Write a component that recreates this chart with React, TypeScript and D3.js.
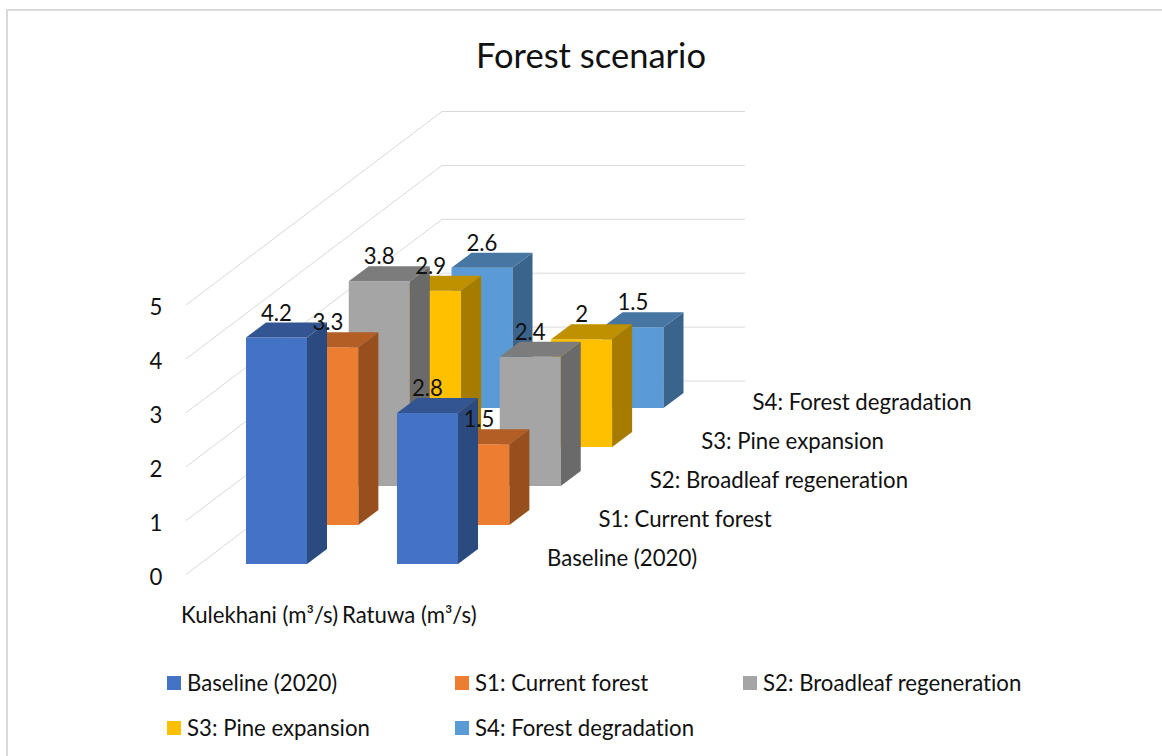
import React from 'react';
import * as d3 from 'd3';

const categories = ['Kulekhani (m³/s)', 'Ratuwa (m³/s)'];
const seriesNames = ['Baseline (2020)', 'S1: Current forest', 'S2: Broadleaf regeneration', 'S3: Pine expansion', 'S4: Forest degradation'];
const kulekhani = [4.2, 3.3, 3.8, 2.9, 2.6];
const ratuwa = [2.8, 1.5, 2.4, 2, 1.5];
const yTicks = [0, 1, 2, 3, 4, 5];

const frontColors = ['#4472C4', '#ED7D31', '#A5A5A5', '#FFC000', '#5B9BD5'];
const topColors = ['#335693', '#B25E25', '#7C7C7C', '#BF9000', '#4676A1'];
const sideColors = ['#2B4A80', '#97501D', '#6A6A6A', '#A67C00', '#3A648C'];

const font = 'Lato, "Open Sans", sans-serif';
const labelSize = 22.2;

export default function App() {
  // value -> height on screen, series -> depth offsets, category -> x of the front row
  const y = d3.scaleLinear().domain([0, 5]).range([0, 269.5]);
  const depthX = d3.scalePoint().domain(seriesNames).range([0, 205.5]);
  const depthY = d3.scalePoint().domain(seriesNames).range([0, 156]);
  const catX = d3.scalePoint().domain(categories).range([246, 397]);

  const barW = 61;
  const sideX = 20;
  const sideY = 15;
  const floorY = 564;

  const values = [kulekhani, ratuwa];

  const bars: any[] = [];
  const labels: any[] = [];
  // back row first so the front rows cover it
  d3.range(seriesNames.length - 1, -1, -1).forEach((s) => {
    const name = seriesNames[s];
    categories.forEach((c, ci) => {
      const v = values[ci][s];
      const x0 = catX(c)! + depthX(name)!;
      const x1 = x0 + barW;
      const bottom = floorY - depthY(name)!;
      const top = bottom - y(v);
      const line = d3.line();
      bars.push(
        <g key={c + name}>
          <path d={line([[x0, bottom], [x1, bottom], [x1, top], [x0, top]]) + 'Z'} fill={frontColors[s]} />
          <path d={line([[x1, bottom], [x1 + sideX, bottom - sideY], [x1 + sideX, top - sideY], [x1, top]]) + 'Z'} fill={sideColors[s]} />
          <path d={line([[x0, top], [x1, top], [x1 + sideX, top - sideY], [x0 + sideX, top - sideY]]) + 'Z'} fill={topColors[s]} />
        </g>
      );
      labels.push(
        <text key={'l' + c + name} x={x0 + 30.5} y={top - 17} textAnchor="middle" fontSize={labelSize} fill="#111">{v}</text>
      );
    });
  });

  const wallX0 = 186;
  const wallX1 = 442;
  const wallX2 = 745;
  const wallBase = 574.5;
  const backBase = 381;

  return (
    <svg width={1162} height={756} style={{ position: 'absolute', left: 0, top: 0, fontVariantLigatures: 'none' }} fontFamily={font}>
      <rect width={1162} height={756} fill="#fff" />
      <path d={d3.line()([[7, 770], [7, 10], [1170, 10]])!} fill="none" stroke="#D9D9D9" strokeWidth={2} />
      <text x={591} y={68} textAnchor="middle" fontSize={34.5} fill="#111">Forest scenario</text>

      {yTicks.map((t) => (
        <g key={t}>
          <path
            d={d3.line()([[wallX0, wallBase - y(t)], [wallX1, backBase - y(t)], [wallX2, backBase - y(t)]])!}
            fill="none"
            stroke="#D9D9D9"
            strokeWidth={1}
          />
          <text x={156} y={wallBase - y(t) + 10} textAnchor="middle" fontSize={labelSize} fill="#111">{t}</text>
        </g>
      ))}

      {bars}
      {labels}

      {seriesNames.map((n) => (
        <text key={n} x={547 + depthX(n)!} y={566 - depthY(n)!} fontSize={labelSize} fill="#111">{n}</text>
      ))}

      <text x={181} y={623} fontSize={labelSize} fill="#111">{categories[0]}</text>
      <text x={342} y={623} fontSize={labelSize} fill="#111">{categories[1]}</text>

      {seriesNames.map((n, i) => {
        const lx = [167, 455, 743, 167, 455][i];
        const ly = [676, 676, 676, 721, 721][i];
        return (
          <g key={'leg' + n}>
            <rect x={lx} y={ly} width={14} height={14} fill={frontColors[i]} />
            <text x={lx + 20} y={ly + 15} fontSize={labelSize} fill="#111">{n}</text>
          </g>
        );
      })}
    </svg>
  );
}
